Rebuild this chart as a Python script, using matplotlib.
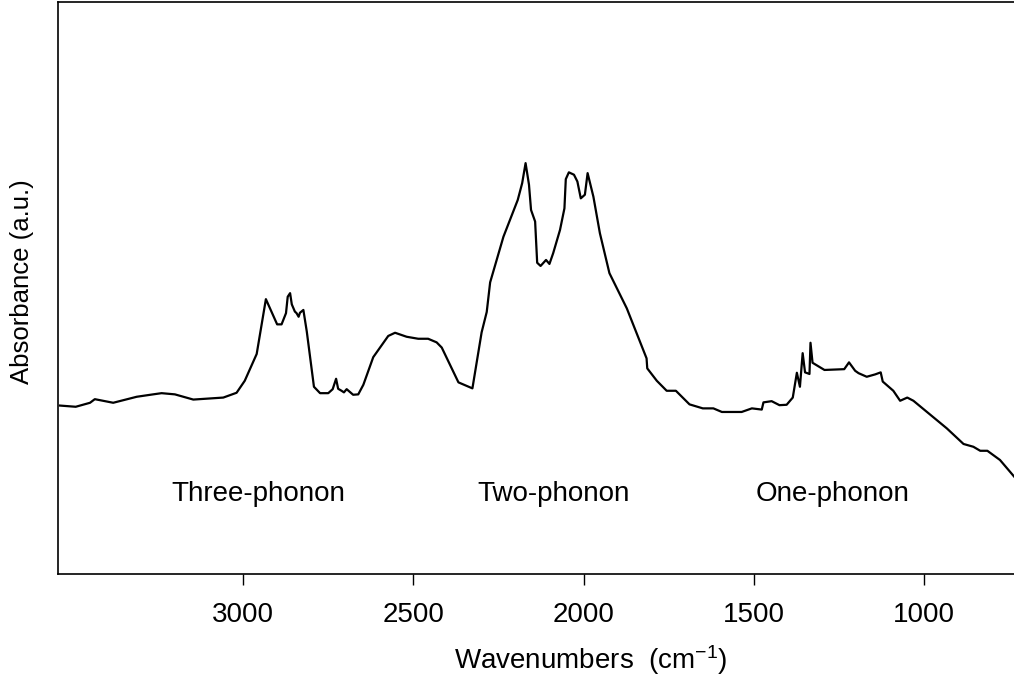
import matplotlib
matplotlib.use('Agg')
import matplotlib.pyplot as plt

plt.rcParams['font.family'] = ['Liberation Sans', 'DejaVu Sans']
plt.rcParams['mathtext.fontset'] = 'custom'
plt.rcParams['mathtext.rm'] = 'Liberation Sans'
plt.rcParams['mathtext.it'] = 'Liberation Sans'

# wavenumbers (cm-1) and absorbance (a.u.)
wavenumber = [3536, 3490, 3448, 3434, 3380, 3311, 3263, 3238, 3199, 3145,
              3057, 3018, 2994, 2959, 2932, 2899, 2886, 2873, 2868, 2861,
              2856, 2847, 2842, 2836, 2832, 2822, 2812, 2791, 2773, 2749,
              2736, 2726, 2720, 2710, 2703, 2695, 2676, 2661, 2646, 2617,
              2573, 2553, 2519, 2485, 2456, 2431, 2416, 2367, 2326, 2299,
              2284, 2274, 2235, 2193, 2180, 2170, 2160, 2154, 2142, 2136,
              2126, 2110, 2100, 2089, 2069, 2056, 2052, 2043, 2028, 2018,
              2008, 1996, 1988, 1971, 1952, 1924, 1873, 1815, 1813, 1785,
              1756, 1729, 1689, 1650, 1619, 1594, 1536, 1506, 1477, 1472,
              1448, 1425, 1404, 1386, 1374, 1365, 1357, 1350, 1337, 1334,
              1328, 1293, 1235, 1221, 1203, 1193, 1169, 1144, 1128, 1122,
              1091, 1071, 1050, 1032, 934, 885, 856, 836, 815, 778, 736]
absorbance = [0.421, 0.418, 0.428, 0.437, 0.428, 0.443, 0.449, 0.452, 0.449, 0.436,
              0.441, 0.453, 0.483, 0.550, 0.687, 0.624, 0.624, 0.652, 0.693, 0.702,
              0.674, 0.656, 0.652, 0.643, 0.653, 0.660, 0.606, 0.468, 0.452, 0.452,
              0.462, 0.488, 0.463, 0.458, 0.454, 0.462, 0.448, 0.449, 0.473, 0.542,
              0.595, 0.603, 0.593, 0.588, 0.588, 0.579, 0.566, 0.479, 0.464, 0.604,
              0.655, 0.729, 0.843, 0.935, 0.977, 1.027, 0.973, 0.910, 0.881, 0.778,
              0.770, 0.785, 0.775, 0.802, 0.860, 0.914, 0.987, 1.004, 0.998, 0.981,
              0.939, 0.948, 1.002, 0.943, 0.852, 0.752, 0.664, 0.539, 0.514, 0.483,
              0.458, 0.458, 0.424, 0.414, 0.414, 0.405, 0.405, 0.414, 0.411, 0.429,
              0.432, 0.422, 0.423, 0.441, 0.503, 0.468, 0.552, 0.504, 0.500, 0.578,
              0.528, 0.510, 0.512, 0.529, 0.508, 0.502, 0.493, 0.499, 0.504, 0.481,
              0.458, 0.433, 0.441, 0.433, 0.364, 0.325, 0.318, 0.308, 0.308, 0.285, 0.243]

regions = ['Three-phonon', 'Two-phonon', 'One-phonon']
region_x = [2955, 2087, 1268]
xticks = [3000, 2500, 2000, 1500, 1000]

fig = plt.figure(figsize=(10.14, 6.8), dpi=100)
ax = fig.add_axes([58 / 1014, 1 - 574 / 680, (1016 - 58) / 1014, 572.5 / 680])

ax.plot(wavenumber, absorbance, color='black', linewidth=1.6)

for name, x in zip(regions, region_x):
    ax.text(x, 0.1825, name, ha='center', va='baseline', fontsize=20)

ax.set_xlim(3542, 731)
ax.set_ylim(0, 1.431)
ax.set_xticks(xticks)
ax.set_yticks([])
ax.tick_params(axis='x', direction='out', length=8, width=1, pad=12, labelsize=20)
for s in ax.spines.values():
    s.set_linewidth(1.2)
ax.spines['right'].set_visible(False)

ax.set_xlabel('Wavenumbers  (cm$^{-1}$)', fontsize=20)
ax.xaxis.set_label_coords((591 - 58) / 958, -(660 - 574) / 572.5)
ax.set_ylabel('Absorbance (a.u.)', fontsize=18.5)
ax.yaxis.set_label_coords(-(58 - 22) / 958, (574 - 281.5) / 572.5)
ax.yaxis.label.set_va('center')
ax.xaxis.label.set_va('center')

plt.savefig('out.png', dpi=100)
